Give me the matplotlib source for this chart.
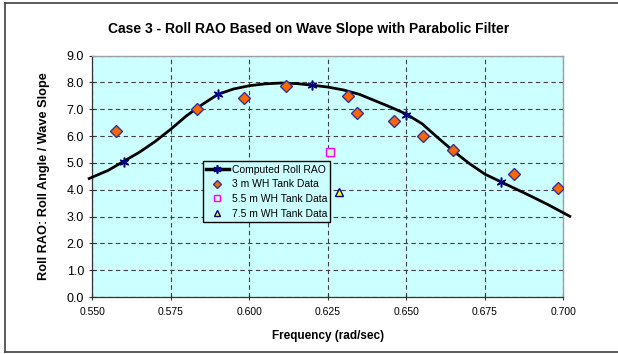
import numpy as np
import matplotlib
matplotlib.use("Agg")
import matplotlib.pyplot as plt
from matplotlib.lines import Line2D

plt.rcParams['font.family'] = ['Liberation Sans', 'DejaVu Sans']

# computed roll RAO curve
curve_freq = [0.549, 0.555, 0.560, 0.565, 0.570, 0.575, 0.580, 0.585, 0.590, 0.595,
              0.600, 0.605, 0.610, 0.615, 0.620, 0.625, 0.630, 0.635, 0.640, 0.645,
              0.650, 0.655, 0.660, 0.665, 0.670, 0.675, 0.680, 0.685, 0.690, 0.695, 0.702]
curve_rao = [4.42, 4.72, 5.06, 5.40, 5.80, 6.26, 6.76, 7.18, 7.56, 7.76,
             7.88, 7.95, 7.98, 7.96, 7.90, 7.83, 7.72, 7.56, 7.32, 7.08,
             6.82, 6.46, 5.94, 5.44, 4.98, 4.58, 4.30, 4.02, 3.74, 3.45, 3.01]

# computed points marked with stars
star_freq = [0.560, 0.590, 0.620, 0.650, 0.680]
star_rao = [5.05, 7.56, 7.90, 6.80, 4.30]

# tank data
wh3_freq = [0.5575, 0.5832, 0.5983, 0.6118, 0.6313, 0.6343, 0.6461, 0.6554, 0.6648, 0.6844, 0.6984]
wh3_rao = [6.19, 7.02, 7.43, 7.87, 7.50, 6.88, 6.57, 6.01, 5.47, 4.60, 4.07]
wh55_freq = [0.6256]
wh55_rao = [5.39]
wh75_freq = [0.6286]
wh75_rao = [3.91]

xticks = [0.550, 0.575, 0.600, 0.625, 0.650, 0.675, 0.700]
yticks = [0.0, 1.0, 2.0, 3.0, 4.0, 5.0, 6.0, 7.0, 8.0, 9.0]

fig = plt.figure(figsize=(6.18, 3.54), dpi=100)
ax = fig.add_axes([0.1494, 0.161, 0.7624, 0.6817])
ax.set_facecolor('#CCFFFF')

ax.plot(curve_freq, curve_rao, color='black', lw=2, clip_on=False, zorder=3)
ax.plot(star_freq, star_rao, ls='none', marker=(6, 2, 0), ms=7, mew=1.1,
        color='#000080', zorder=4)
ax.plot(wh3_freq, wh3_rao, ls='none', marker='D', ms=6.5, mfc='#FF6600',
        mec='#333399', mew=1, zorder=5)
ax.plot(wh55_freq, wh55_rao, ls='none', marker='s', ms=5.5, mfc='#CCFFCC',
        mec='#FF00FF', mew=1, zorder=5)
ax.plot(wh75_freq, wh75_rao, ls='none', marker='^', ms=6, mfc='#FFFF00',
        mec='#000080', mew=1, zorder=5)

ax.set_xlim(0.550, 0.700)
ax.set_ylim(0, 9)
ax.set_xticks(xticks)
ax.set_xticklabels([f"{t:.3f}" for t in xticks], fontsize=7.5)
ax.set_yticks(yticks)
ax.set_yticklabels([f"{t:.1f}" for t in yticks], fontsize=9)
ax.tick_params(direction='inout', length=5, width=0.8, color='#333333')
ax.tick_params(axis='x', pad=5)
ax.grid(True, ls=(0, (4, 3)), color='#404040', lw=0.8)
ax.set_axisbelow(True)

for s in ['left', 'bottom']:
    ax.spines[s].set_color('#333333')
    ax.spines[s].set_linewidth(0.9)
for s in ['right', 'top']:
    ax.spines[s].set_color('#A0A0A0')
    ax.spines[s].set_linewidth(1.0)

ax.set_xlabel("Frequency (rad/sec)", fontsize=8.5, fontweight='bold', labelpad=9)
ax.set_ylabel("Roll RAO: Roll Angle / Wave Slope", fontsize=9.2, fontweight='bold', labelpad=12)
fig.text(0.5, 0.918, "Case 3 - Roll RAO Based on Wave Slope with Parabolic Filter",
         ha='center', va='center', fontsize=10, fontweight='bold')

handles = [
    Line2D([], [], color='black', lw=2.5, marker=(6, 2, 0), ms=6, mec='#000080', mew=1.2),
    Line2D([], [], ls='none', marker='D', ms=4, mfc='#FF6600', mec='#333399'),
    Line2D([], [], ls='none', marker='s', ms=5, mfc='#CCFFCC', mec='#FF00FF'),
    Line2D([], [], ls='none', marker='^', ms=5, mfc='#FFFF00', mec='#000080'),
]
labels = ["Computed Roll RAO", "3 m WH Tank Data", "5.5 m WH Tank Data", "7.5 m WH Tank Data"]
leg = ax.legend(handles, labels, loc='lower left', bbox_to_anchor=(0.234, 0.312),
                fontsize=7.5, frameon=True, fancybox=False, facecolor='#CCFFFF',
                edgecolor='black', framealpha=1, handlelength=2.2, handletextpad=0.3,
                borderpad=0.3, labelspacing=0.45, borderaxespad=0)
leg.get_frame().set_linewidth(1.0)

# outer chart frame
fx0, fy0, fy1 = 5 / 618, 1 - 352 / 354, 1 - 3 / 354
for xs, ys in [([fx0, fx0], [fy0, fy1]), ([fx0, 1], [fy1, fy1]), ([fx0, 1], [fy0, fy0])]:
    fig.add_artist(Line2D(xs, ys, color='#404040', lw=1.2, transform=fig.transFigure))

fig.savefig('out.png', dpi=100)
